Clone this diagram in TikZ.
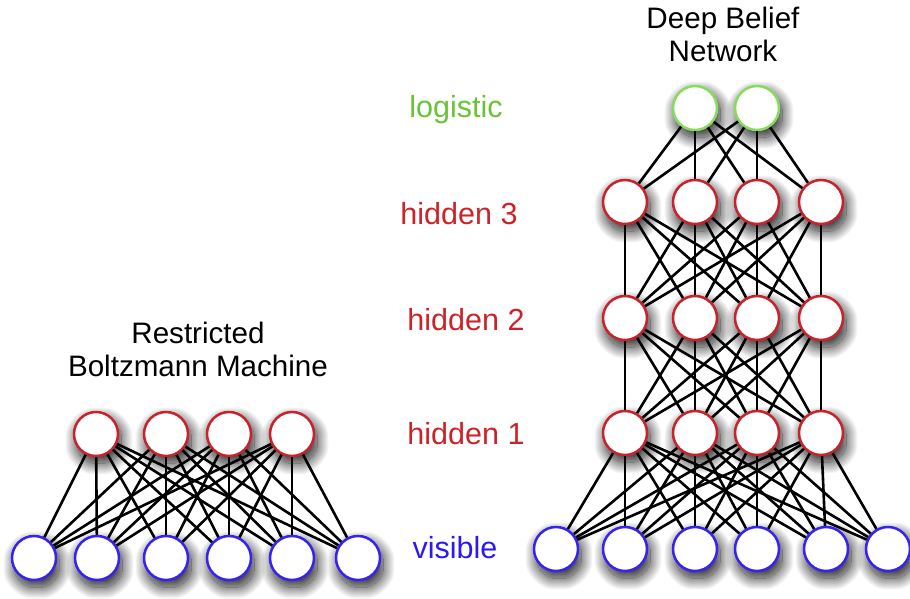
\documentclass[tikz,border=0pt]{standalone}
\usepackage{fontspec}
\setmainfont{Liberation Sans}
\usetikzlibrary{shadows.blur}
\definecolor{nred}{RGB}{200,35,45}
\definecolor{nblue}{RGB}{55,35,240}
\definecolor{ngreen}{RGB}{135,220,95}
\definecolor{tgreen}{RGB}{105,195,55}
\definecolor{tred}{RGB}{205,35,40}
\definecolor{tblue}{RGB}{45,25,240}
\tikzset{
  unit/.style={circle, draw, fill=white, line width=2.5pt, minimum size=44pt, inner sep=0pt,
    blur shadow={shadow xshift=3pt, shadow yshift=-7pt, shadow blur radius=12pt, shadow blur steps=40, shadow blur extra rounding=6pt, shadow opacity=90}},
  hid/.style={unit, draw=nred},
  vis/.style={unit, draw=nblue},
  logi/.style={unit, draw=ngreen},
  edge/.style={line width=2.6pt, black},
  lbl/.style={font=\fontsize{30.5}{34}\selectfont, inner sep=0pt, anchor=base},
  ttl/.style={font=\fontsize{29.6}{33}\selectfont, inner sep=0pt, align=center, text=black}
}
\begin{document}
\begin{tikzpicture}[x=1pt,y=-1pt]
\useasboundingbox (0,0) rectangle (910,599);
% RBM
\foreach \x [count=\i] in {96,166,229,292} \node[hid] (rh\i) at (\x,434) {};
\foreach \x [count=\i] in {34,97,166,229,292,358} \node[vis] (rv\i) at (\x,558) {};
% DBN
\foreach \x [count=\i] in {695,757} \node[logi] (lg\i) at (\x,108) {};
\foreach \x [count=\i] in {625,695,757,821} {
  \node[hid] (a\i) at (\x,202) {};
  \node[hid] (b\i) at (\x,318) {};
  \node[hid] (c\i) at (\x,433) {};
}
\foreach \x [count=\i] in {556,625,695,757,826,888} \node[vis] (dv\i) at (\x,549) {};
% edges
\foreach \i in {1,...,4} \foreach \j in {1,...,6} {
  \draw[edge] (rh\i) -- (rv\j);
  \draw[edge] (c\i) -- (dv\j);
}
\foreach \i in {1,...,4} \foreach \j in {1,...,4} {
  \draw[edge] (a\i) -- (b\j);
  \draw[edge] (b\i) -- (c\j);
}
\foreach \i in {1,2} \foreach \j in {1,...,4} \draw[edge] (lg\i) -- (a\j);
% labels
\node[lbl, text=tgreen] (llog) at (456,118) {logistic};
\node[lbl, text=tred] (lh3) at (459,224) {hidden 3};
\node[lbl, text=tred] (lh2) at (466,330) {hidden 2};
\node[lbl, text=tred] (lh1) at (466,444) {hidden 1};
\node[lbl, text=tblue] (lvis) at (455,558) {visible};
% titles
\node[ttl, anchor=base] (trbm) at (198,376) {Restricted\\Boltzmann Machine};
\node[ttl, anchor=base] (tdbn) at (723,62) {Deep Belief\\Network};
\end{tikzpicture}
\end{document}
